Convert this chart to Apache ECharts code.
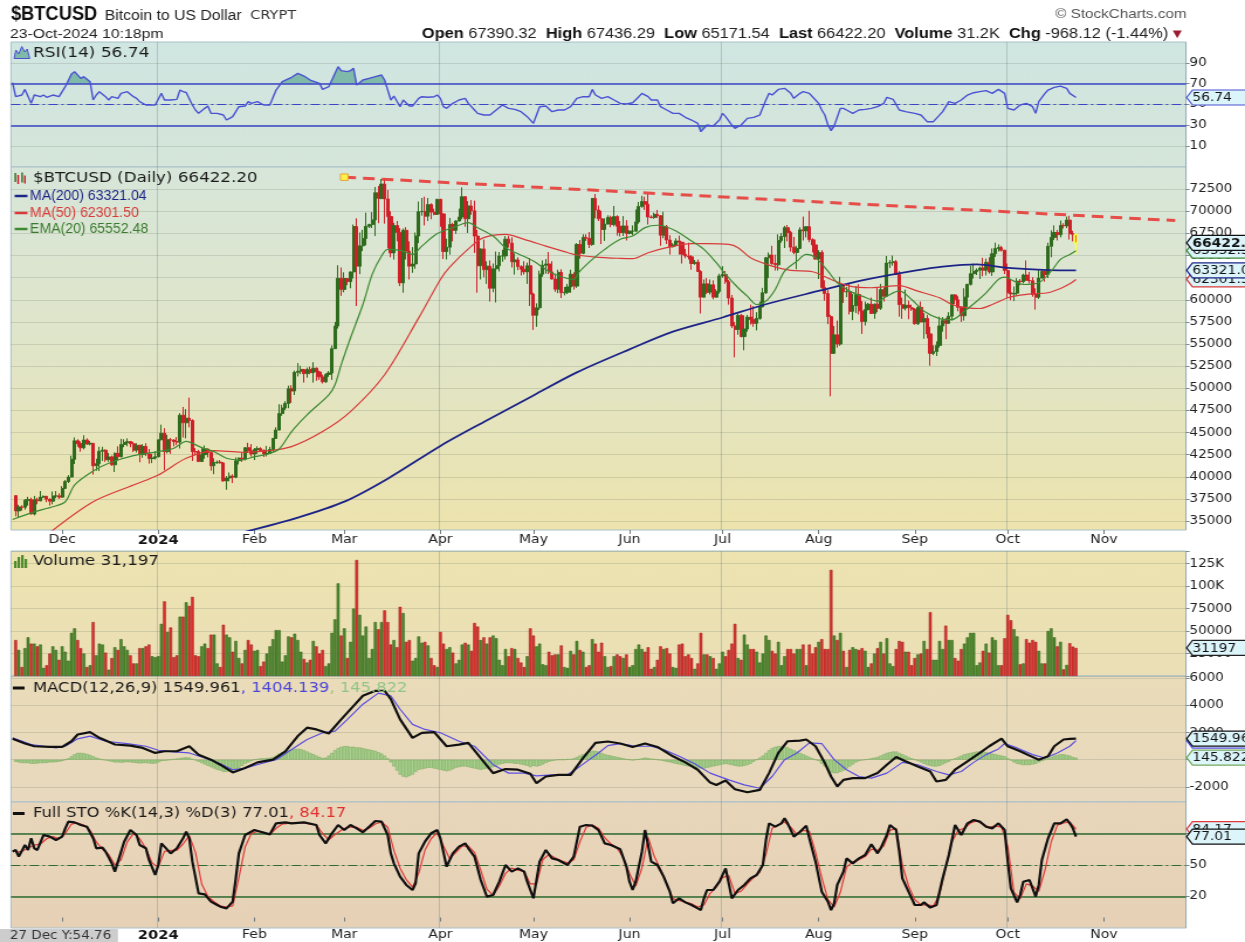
<!DOCTYPE html>
<html>
<head>
<meta charset="utf-8">
<title>$BTCUSD Bitcoin to US Dollar</title>
<script src="https://cdn.jsdelivr.net/npm/echarts@6.0.0/dist/echarts.min.js"></script>
<style>
  html, body { margin: 0; padding: 0; background: #fff; overflow: hidden; width: 1245px; height: 942px; }
  /* the chart is laid out 1064px wide and widened to the full 1245px page */
  #chart { width: 1064px; height: 942px; transform: scaleX(1.170113); transform-origin: 0 0; }
</style>
</head>
<body>
<div id="chart"></div>
<script>
// ---------- daily bars [open, high, low, close], one array per month ----------
const firstBarDate = '2023-11-16';

const ohlcNov23 = [
  [37880,37930,35550,36160],[36160,36850,35370,36600],[36600,36800,36200,36570],[36570,37500,36300,37360],
  [37360,37750,36750,37430],[37430,37650,35750,35810],[35810,37850,35650,37420],[37420,37650,36900,37290],
  [37290,38400,37250,37720],[37720,37900,37600,37800],[37800,37850,37150,37480],[37480,37570,36750,37250],
  [37250,38350,36900,37830],[37830,38400,37600,37860],[37860,38150,37500,37710]
];
const ohlcDec23 = [
  [37710,38950,37650,38690],[38690,39650,38650,39470],[39470,40200,39300,39980],[39980,42400,39950,41980],
  [41980,44450,41450,44080],[44080,44250,43400,43750],[43750,44000,42850,43290],[43290,44700,43100,44170],
  [44170,44350,43600,43720],[43720,44050,43550,43790],[43790,43800,40250,41250],[41250,42050,40700,41490],
  [41490,43400,40650,42890],[42890,43400,41800,43020],[43020,43100,41700,41940],[41940,42700,41700,42260],
  [42260,42400,41250,41360],[41360,42750,40550,42660],[42660,43450,41850,42270],[42270,44300,42200,43660],
  [43660,44250,43350,43870],[43870,44350,43450,43990],[43990,44000,43350,43740],[43740,43950,42800,43020],
  [43020,43800,42750,43580],[43580,43600,41650,42520],[42520,43700,42150,43440],[43440,43800,42350,42590],
  [42590,43150,41500,42070],[42070,42600,41550,42140],[42140,42900,41950,42280]
];
const ohlcJan24 = [
  [42280,44200,42200,44180],[44180,45900,44150,44940],[44940,45500,40750,42850],[42850,44750,42650,44190],
  [44190,44400,42600,44160],[44160,44250,43450,43970],[43970,44500,43600,43930],[43930,47200,43200,46970],
  [46970,47900,44450,46110],[46110,47650,44350,46630],[46630,48950,45600,46370],[46370,46500,41800,42850],
  [42850,43250,42450,42840],[42840,43050,41700,41730],[41730,43350,41700,42510],[42510,43550,42050,43150],
  [43150,43200,42200,42740],[42740,42950,40700,41260],[41260,42100,40300,41620],[41620,41850,41450,41670],
  [41670,41900,41500,41580],[41580,41650,39450,39540],[39540,40100,38550,39880],[39880,40500,39500,40080],
  [40080,40300,39300,39960],[39960,42200,39850,41820],[41820,42200,41400,42120],[42120,42800,41700,42030],
  [42030,43300,41850,43300],[43300,43850,42700,42950],[42950,43700,42300,42580]
];
const ohlcFeb24 = [
  [42580,43250,41900,43080],[43080,43450,42600,43190],[43190,43350,42900,42990],[42990,43100,42250,42580],
  [42580,43500,42300,42660],[42660,43400,42600,43090],[43090,44400,42800,44340],[44340,45600,44300,45290],
  [45290,48200,45250,47150],[47150,48150,46900,47770],[47770,48550,47550,48290],[48290,50300,47750,49960],
  [49960,50350,48350,49700],[49700,52000,49250,51810],[51810,52850,51350,51940],[51940,52550,51600,52140],
  [52140,52150,50650,51660],[51660,52350,51200,52120],[52120,52450,51600,51780],[51780,52950,50650,52280],
  [52280,52350,50850,51850],[51850,52000,50950,51300],[51300,51550,50550,50740],[50740,51700,50600,51570],
  [51570,51950,51300,51730],[51730,54850,50950,54480],[54480,57500,54450,57040],[57040,63900,56750,62430],
  [62430,63650,60450,61170]
];
const ohlcMar24 = [
  [61170,63100,60850,62400],[62400,62450,61650,62050],[62050,63200,61300,63150],[63150,68500,62400,68270],
  [68270,69200,59300,63790],[63790,67600,62900,66100],[66100,67900,65500,66930],[66930,69850,66150,68300],
  [68300,68600,68100,68500],[68500,69900,68100,69020],[69020,72750,67200,72100],[72100,72850,68650,71460],
  [71460,73650,71350,73070],[73070,73750,68600,71390],[71390,72400,65800,69400],[69400,70000,64800,65300],
  [65300,68700,64550,68390],[68390,68900,66600,67610],[67610,68100,61550,61910],[61910,68050,60800,67850],
  [67850,68200,64550,65500],[65500,66600,62300,63800],[63800,65950,63050,64050],[64050,67600,63500,67200],
  [67200,71100,66400,69950],[69950,71500,69500,69980],[69980,71650,68400,69450],[69450,71500,68900,70760],
  [70760,70900,69100,69900],[69900,70300,69550,69650],[69650,71400,69600,71350]
];
const ohlcApr24 = [
  [71350,71400,68250,69700],[69700,69750,64600,65450],[65450,66900,64550,65950],[65950,69250,65100,68500],
  [68500,68700,66600,67850],[67850,69000,67450,68900],[68900,70300,68850,69350],[69350,72700,69100,71650],
  [71650,71700,68250,69150],[69150,71150,67550,70600],[70600,71250,69600,70050],[70050,71200,65300,67200],
  [67200,67900,60800,63850],[63850,65800,62300,65750],[65750,66800,62550,63400],[63400,64350,61800,63800],
  [63800,64450,59800,61300],[61300,64100,60850,63500],[63500,65450,59700,63850],[63850,65400,63200,64950],
  [64950,65650,64300,64960],[64960,67200,64550,66850],[66850,67200,65900,66400],[66400,67050,63650,64300],
  [64300,65250,62850,64500],[64500,64800,63350,63750],[63750,63900,62750,63450],[63450,64350,62850,63150],
  [63150,64200,61800,63850],[63850,64700,59300,60650]
];
const ohlcMay24 = [
  [60650,60800,56600,58250],[58250,59600,56950,59100],[59100,63300,58850,62900],[62900,64450,62600,63900],
  [63900,64600,62950,64050],[64050,65400,62900,63150],[63150,64350,62300,62350],[62350,62950,60900,61200],
  [61200,63400,60750,63100],[63100,63450,60200,60800],[60800,61450,60500,60850],[60850,61800,60650,61450],
  [61450,63400,60800,62900],[62900,63100,61150,61550],[61550,66400,61350,66250],[66250,66750,64650,65250],
  [65250,67400,65150,67050],[67050,67400,66650,66950],[66950,67650,65850,66250],[66250,71500,66100,71450],
  [71450,71950,69200,70150],[70150,70650,68900,69150],[69150,70050,66300,67950],[67950,69200,66650,68550],
  [68550,69550,68500,69300],[69300,69500,68200,68500],[68500,70600,68300,69400],[69400,69550,67250,68300],
  [68300,68900,67150,67600],[67600,69450,67200,68350],[68350,69000,66700,67500]
];
const ohlcJun24 = [
  [67500,67850,67400,67750],[67750,68400,67300,67760],[67760,70200,67650,68800],[68800,71050,68600,70550],
  [70550,71750,70400,71100],[71100,71650,70150,70800],[70800,71950,68500,69350],[69350,69550,69200,69300],
  [69300,69850,69150,69650],[69650,70150,69250,69500],[69500,69550,66100,67300],[67300,69950,66950,68250],
  [68250,68450,66300,66750],[66750,67300,65100,66000],[66000,66400,65900,66200],[66200,66950,66050,66650],
  [66650,67250,65100,66500],[66500,66550,64100,65150],[65150,65750,64700,64950],[64950,66450,64550,64850],
  [64850,65050,63400,64100],[64100,64500,63950,64250],[64250,64550,63150,63200],[63200,63350,58450,60300],
  [60300,62300,60250,61800],[61800,62450,60650,60850],[60850,62300,60600,61700],[61700,62200,60050,60300],
  [60300,61200,60250,60950],[60950,62950,60700,62700]
];
const ohlcJul24 = [
  [62700,63800,62500,62850],[62850,63250,61800,62050],[62050,62250,59450,60200],[60200,60550,56800,57050],
  [57050,57500,53500,56650],[56650,58450,56050,58250],[58250,58400,55750,55850],[55850,58250,54300,56700],
  [56700,58300,56400,58050],[58050,59450,57200,57750],[57750,59300,56950,57350],[57350,58600,56550,57900],
  [57900,59800,57750,59200],[59200,61350,59150,60800],[60800,64850,60650,64750],[64750,65350,62450,65050],
  [65050,66100,63950,64100],[64100,65100,63300,63950],[63950,67400,63300,66700],[66700,67550,66450,67150],
  [67150,68350,65850,68150],[68150,68450,66600,67600],[67600,67800,65450,65950],[65950,67100,65150,65350],
  [65350,66100,63450,65800],[65800,68200,65750,67900],[67900,69400,66700,67800],[67800,68300,67050,68250],
  [68250,70050,66500,66800],[66800,66950,65350,66200],[66200,66800,64550,64600]
];
const ohlcAug24 = [
  [64600,65600,62350,65350],[65350,65600,61250,61400],[61400,62200,59900,60700],[60700,61100,57250,58100],
  [58100,58300,49100,53950],[53950,57050,53900,56050],[56050,57650,54600,55000],[55000,62600,54800,61700],
  [61700,61750,59650,60900],[60900,61450,60300,60920],[60920,61850,58350,58700],[58700,60650,57700,59350],
  [59350,61550,58500,60600],[60600,61750,58350,58750],[58750,59850,56150,57550],[57550,59800,57100,58900],
  [58900,59650,58800,59500],[59500,60250,58400,58450],[58450,59600,57850,59500],[59500,61400,58600,59050],
  [59050,61800,58850,61150],[61150,61400,59800,60400],[60400,64950,60350,64150],[64150,64500,63600,64200],
  [64200,65000,63850,64300],[64300,64500,62800,62850],[62850,63250,58100,59450],[59450,60250,57850,59050],
  [59050,61150,58800,59400],[59400,59900,57800,59100],[59100,59450,58750,58950]
];
const ohlcSep24 = [
  [58950,59050,57200,57300],[57300,59400,57150,59150],[59150,59800,57450,57500],[57500,58500,55600,57900],
  [57900,58300,55650,56150],[56150,56950,52550,53950],[53950,54850,53750,54150],[54150,55300,53650,54850],
  [54850,58100,54600,57050],[57050,58050,56400,57650],[57650,57950,55550,57350],[57350,58600,57300,58150],
  [58150,60650,57650,60550],[60550,60650,59500,60000],[60000,60400,58700,59150],[59150,59200,57500,58200],
  [58200,61300,57650,60300],[60300,61800,59200,61750],[61750,63850,61600,62950],[62950,64100,62400,63200],
  [63200,63550,62800,63350],[63350,63750,62350,63600],[63600,64750,62650,63350],[63350,64650,62750,64250],
  [64250,64800,62950,63150],[63150,65800,62700,65200],[65200,66450,64850,65800],[65800,66250,65450,65900],
  [65900,66100,65450,65600],[65600,65650,62900,63300]
];
const ohlcOct24 = [
  [63300,64100,60200,60800],[60800,62350,59950,60650],[60650,61500,59850,60750],[60750,62450,60500,62100],
  [62100,62350,61650,62050],[62050,62950,61850,62800],[62800,64450,62150,62200],[62200,63150,61850,62150],
  [62150,62550,60350,60600],[60600,61300,58900,60300],[60300,63350,60100,62450],[62450,63450,62400,63200],
  [63200,63300,62050,62850],[62850,66450,62450,66050],[66050,67850,64800,67050],[67050,68400,66750,67600],
  [67600,67900,66700,67350],[67350,68950,67050,68400],[68400,68650,68050,68350],[68350,69400,68100,69000],
  [69000,69500,66800,67480],[67480,67800,66600,67390.32],[67390.32,67436.29,65171.54,66422.20]
];

// ---------- daily volume, thousands of units ----------
const volumesK = [
  40,29,10,31,43,36,36,33,35,9,12,25,33,29,18,
  33,27,17,48,53,40,31,25,10,12,60,23,36,35,26,7,20,32,29,41,33,29,23,14,14,31,31,33,35,22,21,
  22,58,83,49,54,21,23,66,66,82,78,88,23,22,33,36,31,46,46,14,10,57,46,43,27,39,20,14,29,40,35,
  28,29,11,16,25,33,41,51,51,16,23,44,43,47,40,27,19,15,18,39,33,25,29,11,14,48,63,103,45,
  53,20,38,75,129,68,45,55,20,30,60,52,60,73,60,35,40,32,77,70,38,40,17,20,44,37,38,34,20,12,10,
  49,36,30,32,26,14,18,35,37,35,28,59,55,40,43,36,43,45,42,18,12,30,22,31,30,20,15,10,22,53,
  45,33,36,13,12,27,23,24,24,34,10,9,28,24,39,29,27,10,12,41,36,27,37,22,10,11,22,24,22,20,24,
  10,12,30,35,30,27,32,8,10,18,33,30,31,25,10,9,35,36,22,24,20,8,14,48,24,24,22,20,8,14,
  27,22,29,36,58,20,18,46,35,30,30,27,15,25,45,40,28,25,38,12,22,30,30,25,30,30,35,12,35,25,32,
  38,41,30,30,118,45,40,48,28,10,29,32,30,29,31,28,10,14,25,31,38,25,42,14,11,30,39,38,27,27,12,
  20,24,25,39,30,71,18,18,39,30,56,40,40,20,17,30,36,43,48,48,12,15,28,36,26,43,40,12,12,42,
  68,62,52,44,13,14,41,37,40,38,28,14,14,50,53,43,33,38,7.4,12.3,36.5,32.7,31.197
];

// ---------- daily MACD histogram ----------
const macdHist = [
  -150,-200,-250,-250,-250,-300,-300,-280,-250,-250,-230,-200,-200,-180,-150,
  -100,0,100,250,400,500,500,480,420,350,250,150,80,0,-50,-100,-150,-200,-200,-220,-200,-180,-200,-220,-250,-280,-250,-250,-270,-300,-280,
  -200,-100,-80,-50,0,50,80,120,150,170,150,50,-50,-150,-250,-350,-450,-550,-650,-750,-800,-900,-900,-850,-800,-700,-600,-450,-300,-200,-100,
  0,50,100,100,120,150,200,300,450,550,650,700,750,800,800,780,700,600,500,400,300,200,120,150,300,500,700,850,950,
  1000,1000,950,950,900,900,850,800,750,700,650,550,450,300,100,-200,-500,-800,-1100,-1250,-1300,-1200,-1100,-900,-750,-700,-650,-600,-600,-650,-700,
  -750,-800,-850,-800,-700,-600,-550,-500,-500,-550,-600,-650,-700,-750,-700,-650,-600,-550,-450,-350,-300,-250,-250,-250,-300,-300,-350,-400,-450,-550,
  -450,-500,-450,-350,-250,-150,-100,-50,0,0,0,50,50,100,200,300,400,500,600,650,650,600,500,400,350,300,250,200,150,100,50,
  0,-50,0,50,100,150,120,80,50,0,-50,-100,-150,-200,-250,-300,-350,-400,-450,-500,-500,-550,-600,-650,-650,-600,-550,-500,-450,-400,
  -350,-300,-350,-400,-450,-500,-500,-450,-400,-300,-150,0,150,300,500,700,850,950,1000,1000,950,900,800,700,600,500,400,300,200,100,0,
  -100,-300,-500,-700,-950,-1000,-1000,-900,-800,-650,-500,-350,-200,-100,-50,0,50,100,150,200,300,400,500,550,600,600,500,400,300,200,100,
  0,-100,-200,-300,-400,-450,-500,-500,-450,-350,-250,-150,0,100,200,300,400,450,500,550,600,600,600,550,500,450,400,350,300,250,
  100,-50,-200,-300,-350,-400,-400,-400,-350,-300,-200,-100,0,100,200,300,350,400,400,350,300,200,145.822
];

// ---------- moving averages [date, value] ----------
const ma200Points = [
  ['2024-01-28',33700],['2024-02-15',35400],['2024-03-01',37200],['2024-03-15',39800],['2024-04-01',43500],
  ['2024-04-15',46200],['2024-05-01',49200],['2024-05-15',51800],['2024-06-01',54400],['2024-06-15',56400],
  ['2024-07-01',58000],['2024-07-15',59500],['2024-08-01',61000],['2024-08-15',62200],['2024-09-01',63300],
  ['2024-09-10',63750],['2024-09-21',64000],['2024-10-01',63600],['2024-10-14',63350],['2024-10-23',63321.04]
];
const ma50Points = [
  ['2023-11-27',33700],['2023-12-11',37190],['2023-12-24',39080],['2024-01-01',40210],['2024-01-10',42100],
  ['2024-01-19',42960],['2024-01-28',42780],['2024-02-05',42930],['2024-02-13',43420],['2024-02-23',45120],
  ['2024-03-03',47380],['2024-03-14',51540],['2024-03-25',57960],['2024-04-01',62300],['2024-04-04',63700],
  ['2024-04-11',66070],['2024-04-15',67020],['2024-04-22',67390],['2024-04-28',66830],['2024-05-05',66070],
  ['2024-05-11',65440],['2024-05-15',65060],['2024-05-21',64830],['2024-05-29',64680],['2024-06-02',64640],
  ['2024-06-07',65320],['2024-06-13',65890],['2024-06-21',66340],['2024-06-26',66340],['2024-07-03',66260],
  ['2024-07-06',65890],['2024-07-10',64760],['2024-07-17',63810],['2024-07-23',63320],['2024-07-30',63170],
  ['2024-08-05',62300],['2024-08-11',61540],['2024-08-18',61360],['2024-08-27',61600],['2024-09-02',60980],
  ['2024-09-09',60230],['2024-09-13',59470],['2024-09-18',59090],['2024-09-22',59020],['2024-09-26',59470],
  ['2024-10-01',60230],['2024-10-05',60530],['2024-10-09',60680],['2024-10-14',60800],['2024-10-18',61280],
  ['2024-10-21',61810],['2024-10-23',62301.50]
];
const ema20Points = [
  ['2023-11-15',35190],['2023-11-22',36050],['2023-11-28',36620],['2023-12-02',37190],['2023-12-05',39080],
  ['2023-12-11',40660],['2023-12-16',41540],['2023-12-24',42400],['2024-01-01',42850],['2024-01-06',43230],
  ['2024-01-10',44000],['2024-01-15',43300],['2024-01-19',42850],['2024-01-23',42100],['2024-01-28',41910],
  ['2024-02-01',42280],['2024-02-05',42550],['2024-02-09',43150],['2024-02-13',45120],['2024-02-18',47010],
  ['2024-02-25',49270],['2024-02-27',50410],['2024-02-29',52670],['2024-03-03',55690],['2024-03-07',59470],
  ['2024-03-10',62870],['2024-03-13',64940],['2024-03-15',65700],['2024-03-19',65590],['2024-03-23',65130],
  ['2024-03-26',66070],['2024-03-31',67480],['2024-04-05',68150],['2024-04-10',68720],['2024-04-13',68150],
  ['2024-04-18',67200],['2024-04-22',65890],['2024-04-26',65210],['2024-05-01',64370],['2024-05-05',63430],
  ['2024-05-08',62860],['2024-05-12',62410],['2024-05-14',62300],['2024-05-16',63240],['2024-05-20',64570],
  ['2024-05-24',65700],['2024-05-29',66830],['2024-06-02',67200],['2024-06-06',68150],['2024-06-10',68420],
  ['2024-06-12',68340],['2024-06-16',67770],['2024-06-21',66640],['2024-06-25',65700],['2024-06-29',64190],
  ['2024-07-02',62870],['2024-07-06',61360],['2024-07-09',60410],['2024-07-12',59470],['2024-07-15',59850],
  ['2024-07-18',61170],['2024-07-21',63240],['2024-07-25',64370],['2024-07-28',65130],['2024-07-31',64760],
  ['2024-08-04',63240],['2024-08-07',61920],['2024-08-11',60980],['2024-08-15',60410],['2024-08-20',59850],
  ['2024-08-23',60410],['2024-08-27',61000],['2024-08-31',60040],['2024-09-04',58710],['2024-09-09',57880],
  ['2024-09-13',57770],['2024-09-17',58710],['2024-09-21',59840],['2024-09-24',60790],['2024-09-28',62300],
  ['2024-09-30',62560],['2024-10-03',62110],['2024-10-06',61730],['2024-10-11',61920],['2024-10-15',63240],
  ['2024-10-18',64570],['2024-10-21',65130],['2024-10-23',65552.48]
];
// resistance line drawn across the highs
const trendPoints = [['2024-03-01',73850],['2024-11-24',68950]];

// ---------- RSI(14) ----------
const rsiPoints = [
  ['2023-11-15',70.9],['2023-11-16',57.5],['2023-11-18',59.1],['2023-11-19',64.5],['2023-11-21',51.1],['2023-11-22',59.1],
  ['2023-11-24',57.5],['2023-11-25',59.1],['2023-11-26',56.9],['2023-11-28',59.1],['2023-11-30',57.5],
  ['2023-12-02',67.1],['2023-12-04',79.3],['2023-12-05',81.5],['2023-12-07',75.1],['2023-12-08',76.7],['2023-12-10',71.9],
  ['2023-12-11',54.3],['2023-12-12',59.1],['2023-12-13',62.3],['2023-12-15',57.5],['2023-12-16',54.3],['2023-12-17',57.5],
  ['2023-12-19',55.9],['2023-12-20',60.7],['2023-12-22',62.3],['2023-12-24',57.5],['2023-12-25',55.9],['2023-12-26',52.7],
  ['2023-12-28',49.5],['2023-12-31',49.5],
  ['2024-01-02',60.7],['2024-01-03',54.3],['2024-01-05',54.3],['2024-01-07',54.9],['2024-01-08',63.9],['2024-01-09',62.3],
  ['2024-01-10',61.5],['2024-01-12',49.5],['2024-01-13',44.7],['2024-01-14',41.5],['2024-01-16',46.3],['2024-01-17',48.5],
  ['2024-01-18',41.5],['2024-01-20',41.5],['2024-01-22',39.9],['2024-01-23',35.1],['2024-01-24',36.7],['2024-01-25',38.3],
  ['2024-01-27',47.9],['2024-01-29',48.5],['2024-01-30',52.7],['2024-01-31',51.1],
  ['2024-02-02',52.7],['2024-02-04',49.5],['2024-02-06',49.5],['2024-02-08',63.9],['2024-02-10',71.9],['2024-02-13',76.1],
  ['2024-02-15',79.9],['2024-02-17',77.3],['2024-02-19',73.5],['2024-02-22',70.3],['2024-02-23',64.5],['2024-02-25',67.1],
  ['2024-02-27',79.9],['2024-02-28',86.3],['2024-02-29',82.5],
  ['2024-03-02',81.5],['2024-03-03',82.5],['2024-03-04',84.7],['2024-03-05',68.7],['2024-03-07',73.5],['2024-03-09',75.1],
  ['2024-03-11',76.7],['2024-03-13',78.3],['2024-03-14',73.5],['2024-03-15',63.9],['2024-03-16',54.3],['2024-03-17',58.1],
  ['2024-03-19',47.9],['2024-03-20',54.3],['2024-03-22',48.5],['2024-03-23',48.5],['2024-03-25',55.9],['2024-03-26',57.5],
  ['2024-03-28',56.9],['2024-03-30',57.5],['2024-03-31',59.1],
  ['2024-04-01',55.9],['2024-04-02',47.9],['2024-04-03',46.3],['2024-04-05',51.1],['2024-04-07',54.3],['2024-04-09',55.9],
  ['2024-04-10',51.1],['2024-04-12',44.7],['2024-04-13',41.5],['2024-04-15',39.9],['2024-04-17',39.9],['2024-04-19',44.7],
  ['2024-04-21',49.5],['2024-04-23',46.3],['2024-04-25',45.3],['2024-04-27',43.1],['2024-04-29',38.3],
  ['2024-05-01',31.9],['2024-05-02',39.9],['2024-05-03',47.9],['2024-05-05',48.5],['2024-05-07',43.1],['2024-05-09',44.7],
  ['2024-05-11',44.7],['2024-05-13',47.9],['2024-05-15',55.9],['2024-05-17',57.5],['2024-05-19',57.5],['2024-05-20',64.5],
  ['2024-05-21',59.1],['2024-05-23',55.9],['2024-05-25',57.5],['2024-05-27',54.3],['2024-05-29',51.1],['2024-05-31',50.5],
  ['2024-06-02',51.7],['2024-06-04',57.5],['2024-06-05',60.7],['2024-06-07',57.5],['2024-06-08',54.3],['2024-06-10',54.3],
  ['2024-06-11',47.9],['2024-06-13',44.7],['2024-06-15',41.5],['2024-06-17',41.5],['2024-06-19',37.7],['2024-06-21',35.1],
  ['2024-06-23',31.9],['2024-06-24',23.9],['2024-06-26',30.3],['2024-06-28',29.3],['2024-06-30',35.1],
  ['2024-07-01',41.5],['2024-07-02',38.3],['2024-07-04',30.3],['2024-07-05',27.1],['2024-07-07',30.3],['2024-07-09',36.7],
  ['2024-07-11',37.7],['2024-07-13',39.9],['2024-07-15',54.3],['2024-07-16',60.7],['2024-07-17',59.1],['2024-07-19',64.5],
  ['2024-07-21',65.5],['2024-07-23',60.7],['2024-07-24',55.9],['2024-07-26',60.7],['2024-07-27',62.3],['2024-07-29',60.7],
  ['2024-07-31',54.3],
  ['2024-08-01',51.1],['2024-08-02',44.7],['2024-08-03',39.9],['2024-08-04',30.3],['2024-08-05',24.9],['2024-08-06',29.3],
  ['2024-08-08',46.3],['2024-08-09',46.3],['2024-08-10',44.7],['2024-08-12',41.5],['2024-08-14',44.7],['2024-08-16',45.3],
  ['2024-08-18',46.3],['2024-08-20',47.9],['2024-08-22',51.1],['2024-08-23',56.9],['2024-08-25',55.0],['2024-08-27',44.7],
  ['2024-08-29',43.1],
  ['2024-09-01',41.5],['2024-09-03',39.9],['2024-09-05',33.5],['2024-09-07',33.5],['2024-09-08',36.7],['2024-09-10',43.1],
  ['2024-09-12',52.7],['2024-09-14',51.1],['2024-09-16',54.3],['2024-09-18',59.1],['2024-09-20',61.3],['2024-09-22',62.3],
  ['2024-09-24',63.3],['2024-09-26',60.7],['2024-09-28',64.5],['2024-09-30',60.7],
  ['2024-10-01',46.3],['2024-10-03',44.7],['2024-10-05',49.5],['2024-10-07',51.1],['2024-10-09',47.9],['2024-10-10',41.5],
  ['2024-10-11',52.7],['2024-10-13',60.7],['2024-10-14',63.9],['2024-10-16',66.5],['2024-10-18',67.7],['2024-10-20',65.5],
  ['2024-10-21',60.7],['2024-10-23',56.74]
];

// ---------- MACD(12,26,9) line and signal ----------
const macdPoints = [
  ['2023-11-15',1540],['2023-11-19',1190],['2023-11-22',990],['2023-11-27',940],['2023-12-01',940],['2023-12-04',1360],
  ['2023-12-06',1860],['2023-12-10',2030],['2023-12-13',1610],['2023-12-18',1120],['2023-12-23',1040],['2023-12-27',870],
  ['2023-12-31',500],['2024-01-03',620],['2024-01-07',620],['2024-01-11',990],['2024-01-14',370],['2024-01-18',0],
  ['2024-01-21',-370],['2024-01-25',-940],['2024-01-29',-620],['2024-02-02',-200],['2024-02-07',0],['2024-02-11',620],
  ['2024-02-15',1740],['2024-02-18',2360],['2024-02-21',2230],['2024-02-25',1930],['2024-02-29',2970],['2024-03-04',3970],
  ['2024-03-07',4710],['2024-03-11',5080],['2024-03-14',5080],['2024-03-16',4460],['2024-03-19',2970],['2024-03-23',1610],
  ['2024-03-26',1980],['2024-03-30',2030],['2024-04-03',990],['2024-04-07',1110],['2024-04-10',1240],['2024-04-14',120],
  ['2024-04-18',-990],['2024-04-22',-690],['2024-04-26',-740],['2024-04-30',-1040],['2024-05-02',-1735],['2024-05-05',-1240],
  ['2024-05-09',-1115],['2024-05-13',-1115],['2024-05-17',120],['2024-05-21',1240],['2024-05-25',1340],['2024-05-29',1190],
  ['2024-06-02',940],['2024-06-06',1190],['2024-06-10',940],['2024-06-15',250],['2024-06-19',-200],['2024-06-23',-740],
  ['2024-06-27',-1690],['2024-06-29',-1860],['2024-07-02',-1540],['2024-07-05',-2180],['2024-07-09',-2400],['2024-07-13',-2230],
  ['2024-07-16',-990],['2024-07-19',500],['2024-07-22',1360],['2024-07-26',1410],['2024-07-28',1490],['2024-07-31',990],
  ['2024-08-03',-250],['2024-08-05',-1240],['2024-08-07',-1980],['2024-08-09',-1490],['2024-08-12',-1360],['2024-08-16',-1360],
  ['2024-08-20',-990],['2024-08-23',-370],['2024-08-26',200],['2024-08-29',-120],['2024-09-02',-500],['2024-09-06',-870],
  ['2024-09-08',-1610],['2024-09-11',-1490],['2024-09-14',-740],['2024-09-18',-120],['2024-09-22',500],['2024-09-25',990],
  ['2024-09-29',1560],['2024-10-01',990],['2024-10-05',620],['2024-10-08',300],['2024-10-11',0],['2024-10-14',250],
  ['2024-10-16',990],['2024-10-19',1490],['2024-10-21',1540],['2024-10-23',1549.961]
];
const signalPoints = [
  ['2023-11-15',1610],['2023-11-21',1115],['2023-11-29',870],['2023-12-02',990],['2023-12-06',1540],['2023-12-10',1735],
  ['2023-12-15',1360],['2023-12-22',1190],['2023-12-28',990],['2024-01-01',694],['2024-01-06',570],['2024-01-11',496],
  ['2024-01-16',124],['2024-01-21',-297],['2024-01-25',-743],['2024-01-29',-620],['2024-02-03',-300],['2024-02-08',0],
  ['2024-02-13',744],['2024-02-18',1487],['2024-02-23',1983],['2024-02-27',2107],['2024-03-02',2974],['2024-03-07',4090],
  ['2024-03-12',4908],['2024-03-16',4709],['2024-03-19',3718],['2024-03-23',2603],['2024-03-27',2231],['2024-04-01',1983],
  ['2024-04-07',1363],['2024-04-12',991],['2024-04-18',-372],['2024-04-23',-991],['2024-04-28',-991],['2024-05-02',-1190],
  ['2024-05-07',-1115],['2024-05-12',-1115],['2024-05-16',-496],['2024-05-22',496],['2024-05-25',1041],['2024-05-29',1190],
  ['2024-06-03',991],['2024-06-08',991],['2024-06-12',744],['2024-06-17',248],['2024-06-22',-297],['2024-06-27',-991],
  ['2024-07-03',-1487],['2024-07-08',-1859],['2024-07-13',-2107],['2024-07-17',-1239],['2024-07-21',0],['2024-07-25',496],
  ['2024-07-29',1239],['2024-08-02',1190],['2024-08-06',0],['2024-08-10',-743],['2024-08-14',-1239],['2024-08-18',-1363],
  ['2024-08-23',-991],['2024-08-28',-198],['2024-09-02',-372],['2024-09-08',-868],['2024-09-12',-1115],['2024-09-16',-868],
  ['2024-09-20',-198],['2024-09-24',372],['2024-09-28',793],['2024-09-30',1190],['2024-10-04',867],['2024-10-09',372],
  ['2024-10-13',124],['2024-10-17',496],['2024-10-21',991],['2024-10-23',1404.139]
];

// ---------- Full stochastic %K(14,3) and %D(3) ----------
const stoKPoints = [
  ['2023-11-15',62.7],['2023-11-16',64.3],['2023-11-17',58],['2023-11-19',69],['2023-11-20',64.3],['2023-11-21',75.4],
  ['2023-11-22',65.9],['2023-11-23',64.3],['2023-11-25',78.6],['2023-11-27',77],['2023-11-29',73.8],['2023-12-01',77],
  ['2023-12-02',84.9],['2023-12-03',91.3],['2023-12-05',90.6],['2023-12-07',88.1],['2023-12-09',86.5],['2023-12-11',75.4],
  ['2023-12-12',65.9],['2023-12-14',66.5],['2023-12-15',62.7],['2023-12-17',51.6],['2023-12-18',43.7],['2023-12-19',53.2],
  ['2023-12-21',72.2],['2023-12-23',83.3],['2023-12-25',78.6],['2023-12-26',69],['2023-12-28',65.9],['2023-12-29',54.8],
  ['2023-12-31',40.5],['2024-01-01',50],['2024-01-02',70.6],['2024-01-03',67.5],['2024-01-05',61.1],['2024-01-07',65.9],
  ['2024-01-09',75.4],['2024-01-10',81.7],['2024-01-11',75.4],['2024-01-12',53.2],['2024-01-14',23],['2024-01-16',22.1],
  ['2024-01-18',15.1],['2024-01-20',11.9],['2024-01-21',10.3],['2024-01-23',8.7],['2024-01-25',15.1],['2024-01-26',37.3],
  ['2024-01-27',61.1],['2024-01-29',78.6],['2024-02-01',83.3],['2024-02-03',81.7],['2024-02-06',79.2],['2024-02-08',89.7],
  ['2024-02-11',90.6],['2024-02-13',89.7],['2024-02-17',90.6],['2024-02-21',88.1],['2024-02-22',78.6],['2024-02-24',70.6],
  ['2024-02-26',80.2],['2024-02-28',88.1],['2024-03-01',83.3],['2024-03-03',88.1],['2024-03-05',84.9],['2024-03-07',81.1],
  ['2024-03-09',86.5],['2024-03-11',91.9],['2024-03-13',91.3],['2024-03-15',78.6],['2024-03-16',61.1],['2024-03-17',51.6],
  ['2024-03-19',38.9],['2024-03-21',31],['2024-03-23',26.2],['2024-03-24',32.5],['2024-03-25',61.1],['2024-03-27',72.2],
  ['2024-03-29',80.2],['2024-03-31',83.3],['2024-04-01',75.4],['2024-04-03',48.4],['2024-04-05',61.1],['2024-04-07',67.5],
  ['2024-04-09',70.6],['2024-04-10',65.9],['2024-04-12',58],['2024-04-14',35.7],['2024-04-16',19.9],['2024-04-18',21.4],
  ['2024-04-20',34.1],['2024-04-22',50],['2024-04-24',43.7],['2024-04-26',46.8],['2024-04-28',43.7],['2024-04-29',34.1],
  ['2024-05-01',18.3],['2024-05-03',53.2],['2024-05-05',64.3],['2024-05-07',56.3],['2024-05-09',54.8],['2024-05-12',50],
  ['2024-05-14',58],['2024-05-16',86.5],['2024-05-18',88.1],['2024-05-20',87.5],['2024-05-22',83.3],['2024-05-24',70.6],
  ['2024-05-26',69],['2024-05-29',65],['2024-05-31',48.4],['2024-06-01',34.1],['2024-06-02',26.2],['2024-06-03',34.1],
  ['2024-06-05',62.7],['2024-06-06',83.3],['2024-06-07',69],['2024-06-08',53.2],['2024-06-10',50],['2024-06-12',38.9],
  ['2024-06-14',24.6],['2024-06-15',13.5],['2024-06-17',18.3],['2024-06-19',14.4],['2024-06-21',11.9],['2024-06-23',8.7],
  ['2024-06-24',7.1],['2024-06-25',18.3],['2024-06-26',26.2],['2024-06-28',26.2],['2024-06-30',34.1],['2024-07-02',46.8],
  ['2024-07-03',32.5],['2024-07-04',18.3],['2024-07-06',26.2],['2024-07-08',31],['2024-07-10',37.3],['2024-07-12',40.5],
  ['2024-07-14',50],['2024-07-15',73.8],['2024-07-16',89.7],['2024-07-18',86.5],['2024-07-20',89.7],['2024-07-21',94.4],
  ['2024-07-22',89.7],['2024-07-24',77],['2024-07-26',81.7],['2024-07-28',87.5],['2024-07-29',75.4],['2024-07-31',53.2],
  ['2024-08-01',38.9],['2024-08-02',24.6],['2024-08-04',15],['2024-08-05',7.1],['2024-08-06',13.5],['2024-08-07',31],
  ['2024-08-09',43.7],['2024-08-10',56.3],['2024-08-12',51.6],['2024-08-14',56.3],['2024-08-16',59.5],['2024-08-18',69.7],
  ['2024-08-20',61.1],['2024-08-21',65.9],['2024-08-23',78.6],['2024-08-24',88.1],['2024-08-26',83.3],['2024-08-27',62.7],
  ['2024-08-28',37.3],['2024-08-30',24.6],['2024-09-01',11.9],['2024-09-03',11.9],['2024-09-04',14.4],['2024-09-06',9.4],
  ['2024-09-08',11.9],['2024-09-10',37.3],['2024-09-12',59.5],['2024-09-14',88.1],['2024-09-16',78.6],['2024-09-18',89.7],
  ['2024-09-20',92.9],['2024-09-22',91.3],['2024-09-24',86.5],['2024-09-26',84.9],['2024-09-28',89.7],['2024-09-30',83.3],
  ['2024-10-01',53.2],['2024-10-02',27.8],['2024-10-04',14.4],['2024-10-05',21.4],['2024-10-06',34.1],['2024-10-08',35.7],
  ['2024-10-10',19.9],['2024-10-11',31],['2024-10-12',54.8],['2024-10-14',75.4],['2024-10-16',89.7],['2024-10-18',89.7],
  ['2024-10-20',93.5],['2024-10-21',89.7],['2024-10-22',84.9],['2024-10-23',77.01]
];
const stoDPoints = [
  ['2023-11-16',62],['2023-11-18',63],['2023-11-20',66],['2023-11-22',69],['2023-11-24',70],['2023-11-26',75],['2023-11-28',77],
  ['2023-11-30',75],['2023-12-02',80],['2023-12-04',89],['2023-12-06',90],['2023-12-08',88],['2023-12-10',83],['2023-12-12',72],
  ['2023-12-14',65],['2023-12-16',60],['2023-12-18',50],['2023-12-20',55],['2023-12-22',72],['2023-12-24',80],['2023-12-26',75],
  ['2023-12-28',66],['2023-12-30',52],['2024-01-01',48],['2024-01-03',63],['2024-01-05',64],['2024-01-07',64],['2024-01-09',70],
  ['2024-01-11',78],['2024-01-13',62],['2024-01-15',32],['2024-01-17',20],['2024-01-19',15],['2024-01-21',11],['2024-01-23',10],
  ['2024-01-25',11],['2024-01-27',38],['2024-01-29',67],['2024-01-31',80],['2024-02-02',82],['2024-02-04',81],['2024-02-06',79],
  ['2024-02-08',85],['2024-02-10',89],['2024-02-13',90],['2024-02-17',90],['2024-02-21',88],['2024-02-23',80],['2024-02-25',74],
  ['2024-02-27',79],['2024-03-01',85],['2024-03-03',86],['2024-03-05',86],['2024-03-07',83],['2024-03-09',85],['2024-03-11',89],
  ['2024-03-13',91],['2024-03-15',86],['2024-03-17',64],['2024-03-19',47],['2024-03-21',36],['2024-03-23',29],['2024-03-25',42],
  ['2024-03-27',64],['2024-03-29',75],['2024-03-31',81],['2024-04-02',68],['2024-04-04',56],['2024-04-06',62],['2024-04-08',68],
  ['2024-04-10',68],['2024-04-12',62],['2024-04-14',45],['2024-04-16',27],['2024-04-18',21],['2024-04-20',30],['2024-04-22',42],
  ['2024-04-24',47],['2024-04-26',45],['2024-04-28',44],['2024-04-30',32],['2024-05-02',32],['2024-05-04',55],['2024-05-06',60],
  ['2024-05-08',57],['2024-05-10',54],['2024-05-12',52],['2024-05-14',55],['2024-05-16',72],['2024-05-18',86],['2024-05-20',88],
  ['2024-05-22',85],['2024-05-24',76],['2024-05-26',70],['2024-05-28',66],['2024-05-30',57],['2024-06-01',42],['2024-06-03',30],
  ['2024-06-05',47],['2024-06-07',76],['2024-06-09',58],['2024-06-11',46],['2024-06-13',32],['2024-06-15',18],['2024-06-17',16],
  ['2024-06-19',15],['2024-06-21',13],['2024-06-23',10],['2024-06-25',12],['2024-06-27',23],['2024-06-29',29],['2024-07-01',38],
  ['2024-07-03',40],['2024-07-05',23],['2024-07-07',25],['2024-07-09',32],['2024-07-11',38],['2024-07-13',43],['2024-07-15',60],
  ['2024-07-17',85],['2024-07-19',88],['2024-07-21',91],['2024-07-23',86],['2024-07-25',79],['2024-07-27',83],['2024-07-29',82],
  ['2024-07-31',62],['2024-08-02',38],['2024-08-04',17],['2024-08-06',10],['2024-08-08',24],['2024-08-10',48],['2024-08-12',53],
  ['2024-08-14',55],['2024-08-16',58],['2024-08-18',65],['2024-08-20',64],['2024-08-22',68],['2024-08-24',83],['2024-08-26',85],
  ['2024-08-28',50],['2024-08-30',30],['2024-09-01',17],['2024-09-03',12],['2024-09-05',12],['2024-09-07',11],['2024-09-09',22],
  ['2024-09-11',48],['2024-09-13',72],['2024-09-15',83],['2024-09-17',85],['2024-09-19',90],['2024-09-21',92],['2024-09-23',89],
  ['2024-09-25',86],['2024-09-27',87],['2024-09-29',86],['2024-10-01',68],['2024-10-03',24],['2024-10-05',18],['2024-10-07',32],
  ['2024-10-09',30],['2024-10-11',25],['2024-10-13',45],['2024-10-15',72],['2024-10-17',88],['2024-10-19',90],['2024-10-21',91],
  ['2024-10-23',84.17]
];

// ---------- axis ticks and indicator bands ----------
const priceTicks = [35000,37500,40000,42500,45000,47500,50000,52500,55000,57500,60000,62500,65000,67500,70000,72500];
const macdTicks = [-2000,0,2000,4000,6000];
const rsiTickLabels = [10,30,50,70,90];
const stoTickLabels = [20,50,80];
const rsiBands = [30,70], rsiMid = 50;
const stoBands = [20,80], stoMid = 50;
const MONTHS = ['Jan','Feb','Mar','Apr','May','Jun','Jul','Aug','Sep','Oct','Nov','Dec'];

// ---------- styling ----------
const FONT_V = 'DejaVu Sans, Verdana, sans-serif';
const FONT_A = 'Liberation Sans, Arial, sans-serif';
const UP = '#2e6b1d', DN = '#cf1f28';
const VOL_UP = '#4d8a2c', VOL_UP_EDGE = '#2d5c17', VOL_DN = '#d8322e', VOL_DN_EDGE = '#a01c1c';
const MA200_C = '#1d2487', MA50_C = '#d83a3a', EMA_C = '#3e8a33';
const RSI_C = '#4a51d2', RSI_BAND = '#3b45c4', RSI_FILL = '#7fb9a9';
const SIG_C = '#5b4fe0', HIST_C = '#a9d190', HIST_EDGE = '#74a85b';
const STOD_C = '#e23a3a', STO_BAND = '#2e6b30';
const GRIDLINE = 'rgba(95,110,95,0.2)';
const QUARTER_LINE = 'rgba(110,135,135,0.35)';
const GRID_LEFT = 9.4, GRID_RIGHT = 50.4;

// ---------- derived series ----------
const DAY = 86400000;
const iso = t => new Date(t).toISOString().slice(0, 10);
const categories = [];
for (let t = Date.UTC(2023, 10, 15); t <= Date.UTC(2024, 10, 27); t += DAY) categories.push(iso(t));
const catIndex = new Map(categories.map((c, i) => [c, i]));

const bars = [].concat(ohlcNov23, ohlcDec23, ohlcJan24, ohlcFeb24, ohlcMar24, ohlcApr24, ohlcMay24,
                       ohlcJun24, ohlcJul24, ohlcAug24, ohlcSep24, ohlcOct24);
const t0 = Date.parse(firstBarDate);
const barDates = bars.map((_, i) => iso(t0 + i * DAY));
const lastIdx = bars.length - 1;
const lastBar = bars[lastIdx];
const prevClose = bars[lastIdx - 1][3];
const lastX = catIndex.get(barDates[lastIdx]);

const candleData = bars.map((b, i) => [barDates[i], b[0], b[3], b[2], b[1]]);
candleData[lastIdx] = {
  value: candleData[lastIdx],
  itemStyle: { color0: DN, borderColor0: '#ffff3a', borderColor: '#ffff3a', borderWidth: 1.4 }
};

const volData = volumesK.map((v, i) => {
  const up = bars[i][3] >= bars[i][0];
  return { value: [barDates[i], Math.round(v * 1000)],
           itemStyle: { color: up ? VOL_UP : VOL_DN, borderColor: up ? VOL_UP_EDGE : VOL_DN_EDGE, borderWidth: 0.5 } };
});
const histData = macdHist.map((v, i) => [barDates[i], v]);

const last = arr => arr[arr.length - 1][1];
const lastVol = Math.round(volumesK[volumesK.length - 1] * 1000);
const rsiLast = last(rsiPoints), ma200Last = last(ma200Points), ma50Last = last(ma50Points), emaLast = last(ema20Points);
const macdLast = last(macdPoints), signalLast = last(signalPoints), histLast = macdHist[macdHist.length - 1];
const kLast = last(stoKPoints), dLast = last(stoDPoints);

// ---------- helpers ----------
function level(value, color, width, type) {
  return { yAxis: value, lineStyle: { color, width, type, opacity: 1 }, label: { show: false } };
}
function marks(z, data) {
  return { silent: true, symbol: ['none', 'none'], animation: false, z, data };
}
const monthStart = (i, v) => v.slice(8) === '01';
const quarterStart = (i, v) => v.slice(8) === '01' && /-(01|04|07|10)-/.test(v);
function monthLabel(v) {
  const m = +v.slice(5, 7);
  return m === 1 ? '{yr|' + v.slice(0, 4) + '}' : MONTHS[m - 1];
}
function makeXAxis(gridIndex, withLabels, margin) {
  return {
    type: 'category', gridIndex, data: categories, boundaryGap: true,
    axisLine: { show: false },
    axisTick: { show: withLabels, interval: monthStart, alignWithLabel: true, length: 4, lineStyle: { color: '#6d7b80' } },
    axisLabel: {
      show: withLabels, interval: monthStart, formatter: monthLabel, margin,
      color: '#222', fontFamily: FONT_V, fontSize: 12,
      rich: { yr: { fontWeight: 'bold', fontFamily: FONT_V, fontSize: 12.5, color: '#111' } }
    },
    splitLine: { show: true, interval: quarterStart, lineStyle: { color: QUARTER_LINE, width: 1 } }
  };
}
const yLabel = { color: '#222', fontFamily: FONT_V, fontSize: 11.5, margin: 3 };
const yTick = { show: true, length: 3, lineStyle: { color: '#7a8a90' } };
function grad(stops) {
  return new echarts.graphic.LinearGradient(0, 0, 0, 1, stops.map((c, i) => ({ offset: i / (stops.length - 1), color: c })));
}
function gridBox(top, height, stops) {
  return { left: GRID_LEFT, right: GRID_RIGHT, top, height, show: true,
           backgroundColor: grad(stops), borderColor: '#a8bfc8', borderWidth: 1 };
}
function text(x, y, str, style, sx) {
  return {
    type: 'text', x, y, scaleX: sx || 1, z: 100, silent: true,
    style: Object.assign({ text: str, textAlign: 'left', align: 'left', textVerticalAlign: 'middle', verticalAlign: 'middle',
                           fill: '#1a1a1a', fontFamily: FONT_V, fontSize: 14 }, style)
  };
}
function hline(x1, x2, y, color, w) {
  return { type: 'line', z: 100, silent: true, shape: { x1, y1: y, x2, y2: y }, style: { stroke: color, lineWidth: w } };
}
function box(x, y, w, h, color) {
  return { type: 'rect', z: 100, silent: true, shape: { x, y, width: w, height: h }, style: { fill: color } };
}

// Shade the RSI where it leaves the band: the region between the RSI line and the band edge.
function bandFill(levelValue, above) {
  return function (params, api) {
    const pts = rsiPoints.map(p => api.coord([catIndex.get(p[0]), p[1]]));
    const yLevel = api.coord([0, levelValue])[1];
    const outside = p => (above ? p[1] < yLevel : p[1] > yLevel);
    const polys = [];
    let cur = null;
    for (let i = 0; i < pts.length; i++) {
      const p = pts[i];
      if (i > 0 && outside(p) !== outside(pts[i - 1])) {
        const q = pts[i - 1];
        const t = (yLevel - q[1]) / (p[1] - q[1]);
        const cross = [q[0] + t * (p[0] - q[0]), yLevel];
        if (cur) { cur.push(cross); polys.push(cur); cur = null; }
        else { cur = [cross]; }
      } else if (i === 0 && outside(p)) {
        cur = [[p[0], yLevel]];
      }
      if (outside(p)) cur.push(p);
    }
    if (cur) { cur.push([pts[pts.length - 1][0], yLevel]); polys.push(cur); }
    return {
      type: 'group',
      children: polys.map(poly => ({ type: 'polygon', shape: { points: poly }, style: { fill: RSI_FILL, stroke: null } }))
    };
  };
}

// Last-value flags on the right edge of a panel; later entries are drawn on top.
function valueFlags(gridIdx, flags) {
  return {
    type: 'custom', xAxisIndex: gridIdx, yAxisIndex: gridIdx, clip: false, silent: true, z: 20,
    data: flags.map(f => [lastX, f.value]),
    renderItem: function (params, api) {
      const f = flags[params.dataIndex];
      const cs = params.coordSys;
      const y = api.coord([lastX, f.value])[1];
      const x = cs.x + cs.width + 0.5;
      return {
        type: 'group',
        children: [
          { type: 'polygon',
            shape: { points: [[x, y], [x + 5, y - 7.5], [x + 80, y - 7.5], [x + 80, y + 7.5], [x + 5, y + 7.5]] },
            style: { fill: '#dcf5fb', stroke: f.color, lineWidth: 1.2 } },
          { type: 'text', x: x + 5, y: y + 0.5,
            style: { text: f.text, fill: f.textColor || '#111', fontFamily: FONT_V, fontSize: 11.8,
                     fontWeight: f.bold ? 'bold' : 'normal',
                     textAlign: 'left', align: 'left', textVerticalAlign: 'middle', verticalAlign: 'middle' } }
        ]
      };
    }
  };
}

// ---------- header and panel legends ----------
const chg = lastBar[3] - prevClose;
const headerText =
  '{b|Open} ' + lastBar[0].toFixed(2) + '  {b|High} ' + lastBar[1].toFixed(2) +
  '  {b|Low} ' + lastBar[2].toFixed(2) + '  {b|Last} ' + lastBar[3].toFixed(2) +
  '  {b|Volume} ' + (lastVol / 1000).toFixed(1) + 'K  {b|Chg} ' + chg.toFixed(2) +
  ' (' + (chg / prevClose * 100).toFixed(2) + '%) {dn|▼}';

const graphics = [
  text(9.4, 14.5, '$BTCUSD', { fontFamily: FONT_A, fontSize: 19.5, fontWeight: 'bold', fill: '#111' }, 0.8),
  text(89.6, 15.5, 'Bitcoin to US Dollar', { fontFamily: FONT_A, fontSize: 15.5, fill: '#222' }, 0.87),
  text(213.7, 16, 'CRYPT', { fontFamily: FONT_V, fontSize: 12.5, fill: '#333' }),
  text(8.5, 34, '23-Oct-2024 10:18pm', { fontFamily: FONT_A, fontSize: 13.5, fill: '#222' }),
  text(1010, 34, headerText, {
    textAlign: 'right', align: 'right', fontFamily: FONT_A, fontSize: 14, fill: '#222',
    rich: {
      b: { fontWeight: 'bold', fontFamily: FONT_A, fontSize: 14, fill: '#111', color: '#111' },
      dn: { fontFamily: FONT_V, fontSize: 10, fill: '#9b1b30', color: '#9b1b30' }
    }
  }),
  text(1014, 14.5, '\u00A9 StockCharts.com', { textAlign: 'right', align: 'right', fontFamily: FONT_A, fontSize: 13, fill: '#555' }),

  // RSI panel
  { type: 'polygon', z: 100, silent: true,
    shape: { points: [[12, 58.5], [13.6, 50], [16, 54], [18.6, 46.5], [21.2, 52], [23.2, 49], [25.4, 58.5]] },
    style: { fill: RSI_FILL, stroke: RSI_C, lineWidth: 1 } },
  text(28.2, 53.5, 'RSI(14) ' + rsiLast.toFixed(2), { fontSize: 14.5 }),

  // price panel
  box(12.4, 173, 1.4, 9, UP), box(14.8, 175, 1.4, 9, DN), box(18.2, 172.5, 1.4, 10, UP), box(20.6, 175.5, 1.4, 8, DN),
  text(28.2, 178.5, '$BTCUSD (Daily) ' + lastBar[3].toFixed(2), { fontSize: 14.3 }),
  hline(12.5, 23.5, 196, MA200_C, 2.5),
  text(25.6, 196, 'MA(200) ' + ma200Last.toFixed(2), { fontFamily: FONT_A, fontSize: 14.5, fill: MA200_C }, 0.83),
  hline(12.5, 23.5, 213, MA50_C, 2.5),
  text(25.6, 213, 'MA(50) ' + ma50Last.toFixed(2), { fontFamily: FONT_A, fontSize: 14.5, fill: MA50_C }, 0.83),
  hline(12.5, 23.5, 229, EMA_C, 2.5),
  text(25.6, 229, 'EMA(20) ' + emaLast.toFixed(2), { fontFamily: FONT_A, fontSize: 14.5, fill: '#3a7a2e' }, 0.83),

  // volume panel
  box(12, 561, 2.2, 7, VOL_UP), box(15, 557, 2.2, 11, VOL_UP), box(18, 555, 2.2, 13, VOL_UP), box(21, 559, 2.2, 9, VOL_UP),
  text(28.2, 561.5, 'Volume ' + lastVol.toLocaleString('en-US'), { fontSize: 14.3 }),

  // MACD panel
  hline(11, 21, 688, '#111', 3),
  text(28.2, 688, '{k|MACD(12,26,9) ' + macdLast.toFixed(3) + '}{s|, ' + signalLast.toFixed(3) + '}{h|, ' + histLast.toFixed(3) + '}', {
    fontSize: 14,
    rich: {
      k: { fontFamily: FONT_V, fontSize: 14, fill: '#1a1a1a', color: '#1a1a1a' },
      s: { fontFamily: FONT_V, fontSize: 14, fill: '#4b46d8', color: '#4b46d8' },
      h: { fontFamily: FONT_V, fontSize: 14, fill: '#93c487', color: '#93c487' }
    }
  }),

  // stochastic panel
  hline(11, 21, 813.5, '#111', 3),
  text(28.2, 813.5, '{k|Full STO %K(14,3) %D(3) ' + kLast.toFixed(2) + '}{d|, ' + dLast.toFixed(2) + '}', {
    fontSize: 14,
    rich: {
      k: { fontFamily: FONT_V, fontSize: 14, fill: '#1a1a1a', color: '#1a1a1a' },
      d: { fontFamily: FONT_V, fontSize: 14, fill: '#e03030', color: '#e03030' }
    }
  }),

  // cursor readout strip
  box(0, 929, 100.8, 13, '#cdcdcd'),
  text(8.5, 936, '27 Dec Y:54.76', { fontSize: 11.5, fill: '#333' })
];

// ---------- chart ----------
const chart = echarts.init(document.getElementById('chart'));
chart.setOption({
  animation: false,
  backgroundColor: '#ffffff',
  grid: [
    gridBox(42, 125, ['#d0e6e2', '#d5e5d9']),
    gridBox(167, 363, ['#d7e6da', '#e0e5c8', '#ede3ad']),
    gridBox(551, 125, ['#ede3b0', '#ebdfb6']),
    gridBox(676, 126, ['#eadcb9', '#e8d8bd']),
    gridBox(802, 126, ['#e8d6bb', '#e6d1b6'])
  ],
  xAxis: [
    makeXAxis(0, false, 0),
    makeXAxis(1, true, 4),
    makeXAxis(2, false, 0),
    makeXAxis(3, false, 0),
    makeXAxis(4, true, 1)
  ],
  yAxis: [
    { type: 'value', gridIndex: 0, position: 'right', min: -10, max: 110, interval: 10,
      axisLine: { show: false }, axisTick: Object.assign({ customValues: rsiTickLabels }, yTick),
      axisLabel: Object.assign({ formatter: v => (rsiTickLabels.indexOf(v) >= 0 ? String(v) : '') }, yLabel),
      splitLine: { show: true, lineStyle: { color: GRIDLINE } } },
    { type: 'value', gridIndex: 1, position: 'right', min: 34000, max: 75000,
      axisLine: { show: false }, axisTick: Object.assign({ customValues: priceTicks }, yTick),
      axisLabel: Object.assign({ customValues: priceTicks, formatter: v => String(v) }, yLabel),
      splitLine: { show: false } },
    { type: 'value', gridIndex: 2, position: 'right', min: 0, max: 139000, interval: 25000,
      axisLine: { show: false }, axisTick: yTick,
      axisLabel: Object.assign({ formatter: v => (v > 0 && v % 25000 === 0 ? (v >= 100000 ? v / 1000 + 'K' : String(v)) : '') }, yLabel),
      splitLine: { show: true, lineStyle: { color: GRIDLINE } } },
    { type: 'value', gridIndex: 3, position: 'right', min: -3120, max: 6170,
      axisLine: { show: false }, axisTick: Object.assign({ customValues: macdTicks }, yTick),
      axisLabel: Object.assign({ customValues: macdTicks, formatter: v => String(v) }, yLabel),
      splitLine: { show: false } },
    { type: 'value', gridIndex: 4, position: 'right', min: -10, max: 110, interval: 10,
      axisLine: { show: false }, axisTick: Object.assign({ customValues: stoTickLabels }, yTick),
      axisLabel: Object.assign({ formatter: v => (stoTickLabels.indexOf(v) >= 0 ? String(v) : '') }, yLabel),
      splitLine: { show: true, lineStyle: { color: GRIDLINE } } }
  ],
  series: [
    // shading where RSI leaves the 30-70 band
    { name: 'rsiOver', type: 'custom', xAxisIndex: 0, yAxisIndex: 0, data: [rsiPoints[rsiPoints.length - 1]],
      silent: true, z: 1, renderItem: bandFill(rsiBands[1], true) },
    { name: 'rsiUnder', type: 'custom', xAxisIndex: 0, yAxisIndex: 0, data: [rsiPoints[rsiPoints.length - 1]],
      silent: true, z: 1, renderItem: bandFill(rsiBands[0], false) },
    // RSI
    { name: 'RSI(14)', type: 'line', xAxisIndex: 0, yAxisIndex: 0, data: rsiPoints, symbol: 'none', z: 3,
      lineStyle: { color: RSI_C, width: 1.4 },
      markLine: marks(2, [
        level(rsiBands[0], RSI_BAND, 1.5, 'solid'),
        level(rsiBands[1], RSI_BAND, 1.5, 'solid'),
        level(rsiMid, RSI_BAND, 1.2, [8, 3, 2, 3])
      ]) },
    // daily bars
    { name: '$BTCUSD', type: 'candlestick', xAxisIndex: 1, yAxisIndex: 1, data: candleData,
      encode: { x: 0, y: [1, 2, 3, 4] }, barWidth: 2.6, z: 2,
      itemStyle: { color: UP, color0: DN, borderColor: UP, borderColor0: DN, borderWidth: 1 } },
    // moving averages
    { name: 'MA(200)', type: 'line', xAxisIndex: 1, yAxisIndex: 1, data: ma200Points, symbol: 'none', z: 3, smooth: 0.3,
      lineStyle: { color: MA200_C, width: 1.8 } },
    { name: 'MA(50)', type: 'line', xAxisIndex: 1, yAxisIndex: 1, data: ma50Points, symbol: 'none', z: 3, smooth: 0.3,
      lineStyle: { color: MA50_C, width: 1.2 } },
    { name: 'EMA(20)', type: 'line', xAxisIndex: 1, yAxisIndex: 1, data: ema20Points, symbol: 'none', z: 3, smooth: 0.3,
      lineStyle: { color: EMA_C, width: 1.2 } },
    // resistance line, also carries the price grid lines
    { name: 'trend', type: 'line', xAxisIndex: 1, yAxisIndex: 1, data: trendPoints, z: 5,
      symbol: 'rect', symbolSize: 6.5, showSymbol: true,
      itemStyle: { color: '#fff04a', borderColor: '#e8a23a', borderWidth: 1 },
      lineStyle: { color: '#e8403c', width: 3, type: [10, 6], opacity: 0.92 },
      markLine: marks(1, priceTicks.map(v => level(v, GRIDLINE, 1, 'solid'))) },
    // volume
    { name: 'Volume', type: 'bar', xAxisIndex: 2, yAxisIndex: 2, data: volData, barWidth: 2.5, z: 2 },
    // MACD
    { name: 'MACD hist', type: 'bar', xAxisIndex: 3, yAxisIndex: 3, data: histData, barWidth: 2.65, z: 2,
      itemStyle: { color: HIST_C, borderColor: HIST_EDGE, borderWidth: 0.5 },
      markLine: marks(1, macdTicks.map(v => level(v, GRIDLINE, 1, 'solid'))) },
    { name: 'signal', type: 'line', xAxisIndex: 3, yAxisIndex: 3, data: signalPoints, symbol: 'none', z: 3,
      lineStyle: { color: SIG_C, width: 1.2 } },
    { name: 'MACD', type: 'line', xAxisIndex: 3, yAxisIndex: 3, data: macdPoints, symbol: 'none', z: 4,
      lineStyle: { color: '#111', width: 2.2 } },
    // stochastic
    { name: '%D', type: 'line', xAxisIndex: 4, yAxisIndex: 4, data: stoDPoints, symbol: 'none', z: 3,
      lineStyle: { color: STOD_C, width: 1.2 },
      markLine: marks(2, [
        level(stoBands[0], STO_BAND, 1.5, 'solid'),
        level(stoBands[1], STO_BAND, 1.5, 'solid'),
        level(stoMid, STO_BAND, 1.2, [8, 3, 2, 3])
      ]) },
    { name: '%K', type: 'line', xAxisIndex: 4, yAxisIndex: 4, data: stoKPoints, symbol: 'none', z: 4,
      lineStyle: { color: '#111', width: 2.2 } },

    // last-value flags
    valueFlags(0, [{ value: rsiLast, text: rsiLast.toFixed(2), color: RSI_C }]),
    valueFlags(1, [
      { value: ma50Last, text: ma50Last.toFixed(1), color: MA50_C },
      { value: emaLast, text: emaLast.toFixed(1), color: EMA_C },
      { value: ma200Last, text: ma200Last.toFixed(1), color: MA200_C },
      { value: lastBar[3], text: lastBar[3].toFixed(1), color: '#111', bold: true }
    ]),
    valueFlags(2, [{ value: lastVol, text: String(lastVol), color: '#222' }]),
    valueFlags(3, [
      { value: histLast, text: histLast.toFixed(3), color: HIST_EDGE },
      { value: signalLast, text: signalLast.toFixed(2), color: SIG_C },
      { value: macdLast, text: macdLast.toFixed(2), color: '#111' }
    ]),
    valueFlags(4, [
      { value: dLast, text: dLast.toFixed(2), color: STOD_C },
      { value: kLast, text: kLast.toFixed(2), color: '#111' }
    ])
  ],
  graphic: graphics
});
</script>
</body>
</html>
